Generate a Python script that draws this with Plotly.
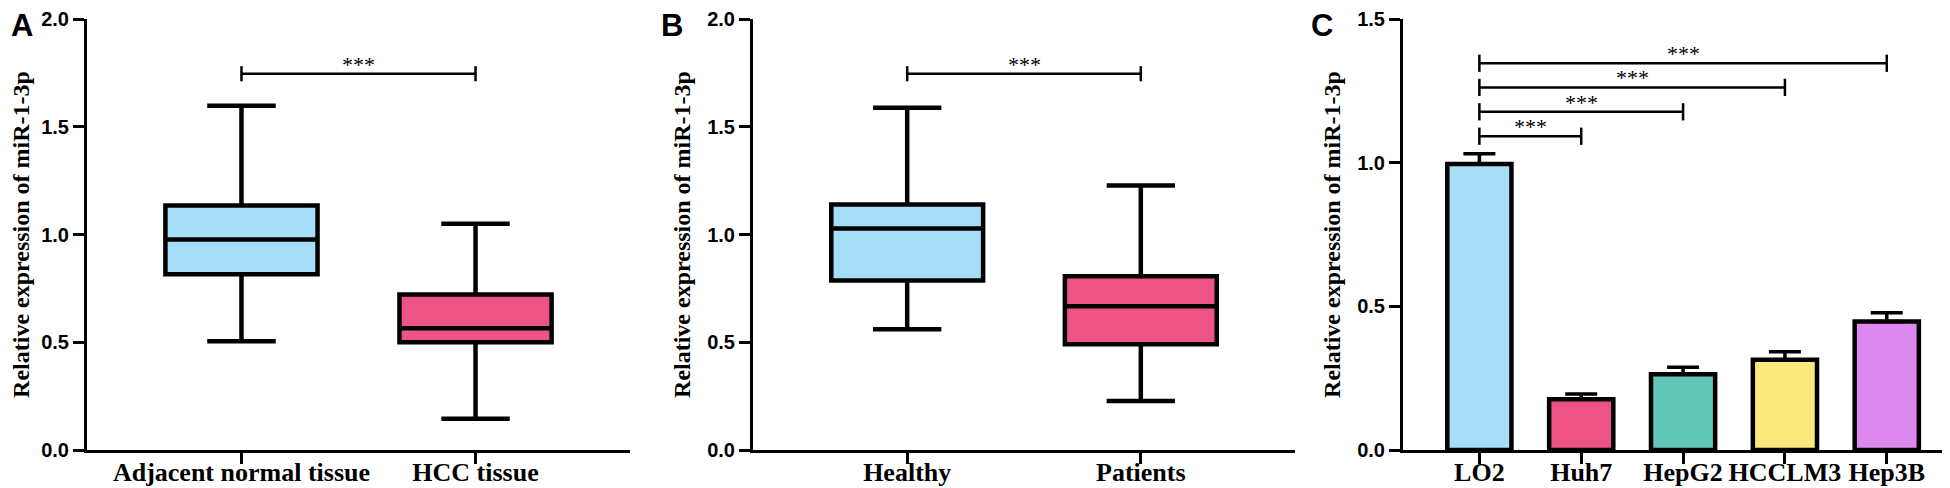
import plotly.graph_objects as go

# panel A: tissue boxes
cats_a = ['Adjacent normal tissue', 'HCC tissue']
a_low = [0.505, 0.145]
a_q1 = [0.815, 0.50]
a_med = [0.977, 0.565]
a_q3 = [1.134, 0.722]
a_high = [1.597, 1.05]

# panel B: serum boxes
cats_b = ['Healthy', 'Patients']
b_low = [0.56, 0.227]
b_q1 = [0.787, 0.491]
b_med = [1.028, 0.667]
b_q3 = [1.139, 0.806]
b_high = [1.588, 1.227]

# panel C: cell lines
cats_c = ['LO2', 'Huh7', 'HepG2', 'HCCLM3', 'Hep3B']
c_mean = [0.995, 0.177, 0.264, 0.314, 0.447]
c_err = [0.036, 0.018, 0.024, 0.028, 0.031]
c_brackets = [1.092, 1.177, 1.262, 1.346]  # LO2 vs each other line

box_colors = ['#A6DEF8', '#EE5386']
bar_colors = ['#A6DEF8', '#EE5386', '#62C7B9', '#FCE97D', '#DD88F1']

W, H = 1950, 488
sans = 'Liberation Sans'
serif = 'Liberation Serif'

fig = go.Figure()


def add_boxes(cats, low, q1, med, q3, high, xa, ya):
    for i, c in enumerate(cats):
        fig.add_trace(go.Box(
            x=[c], lowerfence=[low[i]], q1=[q1[i]], median=[med[i]],
            q3=[q3[i]], upperfence=[high[i]], width=0.65, whiskerwidth=0.45,
            fillcolor=box_colors[i], line=dict(color='black', width=4.5),
            boxpoints=False, xaxis=xa, yaxis=ya, showlegend=False,
        ))


def add_bracket(c0, c1, y, d, xa, ya):
    fig.add_trace(go.Scatter(
        x=[c0, c0, None, c0, c1, None, c1, c1],
        y=[y - d, y + d, None, y, y, None, y - d, y + d],
        mode='lines', line=dict(color='black', width=2.5),
        xaxis=xa, yaxis=ya, showlegend=False, hoverinfo='skip',
    ))


add_boxes(cats_a, a_low, a_q1, a_med, a_q3, a_high, 'x', 'y')
add_boxes(cats_b, b_low, b_q1, b_med, b_q3, b_high, 'x2', 'y2')
add_bracket(cats_a[0], cats_a[1], 1.746, 0.035, 'x', 'y')
add_bracket(cats_b[0], cats_b[1], 1.746, 0.035, 'x2', 'y2')

fig.add_trace(go.Bar(
    x=cats_c, y=c_mean, width=0.63,
    marker=dict(color=bar_colors, line=dict(color='black', width=4.5)),
    error_y=dict(type='data', symmetric=False, array=c_err,
                 arrayminus=[0] * len(c_err), color='black',
                 thickness=3.5, width=16),
    xaxis='x3', yaxis='y3', showlegend=False,
))
for k, yb in enumerate(c_brackets):
    add_bracket(cats_c[0], cats_c[k + 1], yb, 0.03, 'x3', 'y3')

# stars
stars = []
for xa, mid, yv in [('x', 0.5, 1.746), ('x2', 0.5, 1.746)]:
    stars.append((xa, xa.replace('x', 'y'), mid, yv))
for k, yb in enumerate(c_brackets):
    stars.append(('x3', 'y3', (k + 1) / 2, yb))
for xa, ya, mid, yv in stars:
    fig.add_annotation(x=mid, y=yv, xref=xa, yref=ya, text='***',
                       showarrow=False, yanchor='bottom', yshift=-5,
                       font=dict(family=serif, size=22, color='black'))

# panel letters
for letter, px in [('A', 1), ('B', 651), ('C', 1301)]:
    fig.add_annotation(x=px / W, y=1.03, xref='paper', yref='paper',
                       text='<b>' + letter + '</b>', showarrow=False,
                       xanchor='left', yanchor='top',
                       font=dict(family=sans, size=31, color='black'))

ytitle = dict(text='Relative expression of miR-1-3p', standoff=10,
              font=dict(family=serif, size=24, color='black', weight='bold'))
axis_common = dict(showline=True, linewidth=3, linecolor='black', ticks='outside',
                   ticklen=11, tickwidth=3, tickcolor='black', showgrid=False,
                   zeroline=False, automargin=False)
xfont = dict(family=serif, size=26, color='black', weight='bold')
yfont = dict(family=sans, size=20, color='black', weight='bold')
ycommon = dict(tickformat='.1f', title=ytitle, tickfont=yfont,
               ticklabeloverflow='allow', **axis_common)

fig.update_layout(
    width=W, height=H, plot_bgcolor='white', paper_bgcolor='white',
    margin=dict(l=0, r=0, t=11, b=46), boxmode='overlay',
    xaxis=dict(domain=[79 / W, 622 / W], range=[-0.66, 1.66], anchor='y',
               tickfont=xfont, ticklabelstandoff=-14, **axis_common),
    xaxis2=dict(domain=[745 / W, 1287 / W], range=[-0.66, 1.66], anchor='y2',
                tickfont=xfont, ticklabelstandoff=-14, **axis_common),
    xaxis3=dict(domain=[1395 / W, 1947 / W], range=[-0.75, 4.67], anchor='y3',
                tickfont=xfont, ticklabelstandoff=-14, **axis_common),
    yaxis=dict(range=[0, 2], tickvals=[0, 0.5, 1, 1.5, 2], anchor='x', **ycommon),
    yaxis2=dict(range=[0, 2], tickvals=[0, 0.5, 1, 1.5, 2], anchor='x2', **ycommon),
    yaxis3=dict(range=[0, 1.5], tickvals=[0, 0.5, 1, 1.5], anchor='x3', **ycommon),
)

fig.write_html('out.html')
